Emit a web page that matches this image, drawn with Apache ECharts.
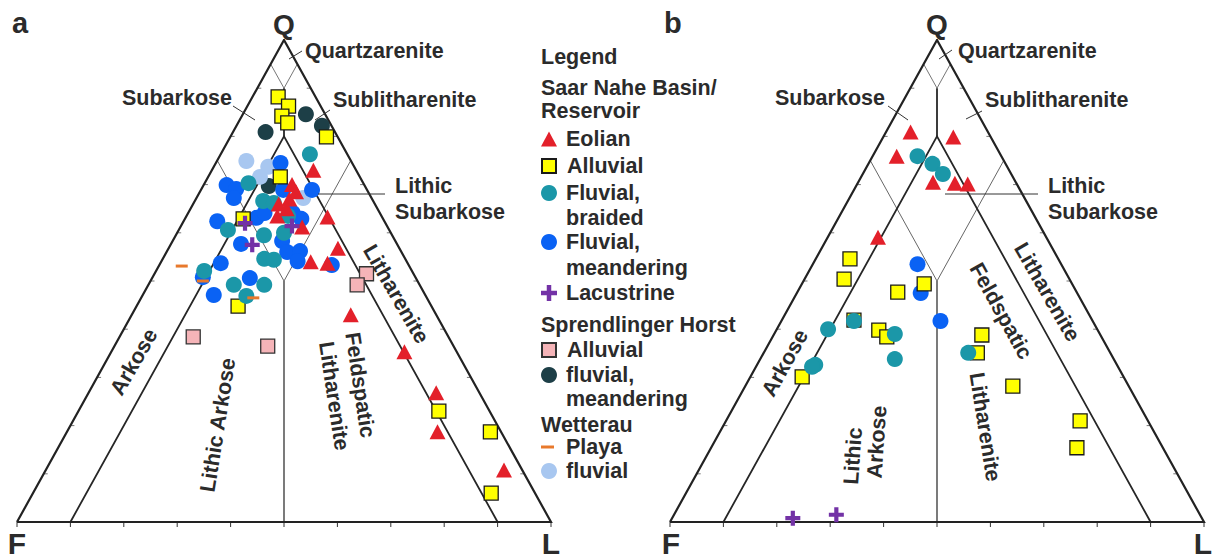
<!DOCTYPE html>
<html><head><meta charset="utf-8">
<script src="https://cdn.jsdelivr.net/npm/echarts/dist/echarts.min.js"></script>
<style>html,body{margin:0;padding:0;background:#fff}#c{width:1213px;height:558px}</style>
</head><body><div id="c"></div>
<script>
// Ternary compositions, [Q, F, L] in percent
// ---- Diagram a ----
const eolianA = [[73,8,19],[70,13.5,16.5],[67,15.5,17.5],[66,18,16],[63.5,19.5,17],[65,17,18],[68.5,13.5,18],[63.3,10.2,26.5],[61.2,16,22.8],[56.8,11.5,31.7],[54,18,28],[53.7,15,31.3],[43,16,41],[35.3,9.8,54.9],[26.8,8.1,65.1],[18.7,11.9,69.4],[10.8,3.4,85.8]];
const alluvialA = [[88.2,7,4.8],[86.3,6,7.7],[84.2,8.3,7.5],[82.8,7.9,9.3],[79.9,2.1,18],[71.6,14.9,13.5],[62.9,26.2,10.9],[44.8,36.2,19],[23,9.5,67.5],[18.7,2,79.3],[6,8.2,85.8]];
const braidedA = [[76.3,7,16.7],[70.3,21.5,8.2],[66.6,20.6,12.8],[66.2,18.8,15],[63.5,17.5,19],[60.6,30.2,9.2],[59.5,24,16.5],[60,20,20],[54.6,26.4,19],[54.4,24.7,20.9],[52.1,38.9,9],[49.2,34.8,16],[49.2,29.1,21.7],[46.9,33.6,19.5]];
const meanderingA = [[74.5,13.4,12.1],[69.9,25.8,4.3],[69.1,24.4,6.5],[67.2,25.8,7],[68.9,15.7,15.4],[68.9,10.3,20.8],[62.4,31.3,6.3],[63.1,23.6,13.3],[64.1,21.6,14.3],[64.1,16.3,19.6],[62.9,15.3,21.8],[57.7,29.2,13.1],[58.3,21.2,20.5],[56,21.4,22.6],[56.2,18.9,24.9],[54.1,20.4,25.5],[53.7,35,11.3],[50.6,31.1,18.3],[53.3,14.4,32.3],[50.8,39.8,9.4],[47.1,39.6,13.3]];
const lacustrineA = [[62,26.3,11.7],[61.4,17.8,20.8],[57.5,27.2,15.3]];
const sprAlluvialA = [[51.5,8.8,39.7],[49.2,11.7,39.1],[38.4,47.8,13.8],[36.5,34.8,28.7]];
const sprFluvialA = [[84.6,3.6,11.8],[82.2,1.8,16],[80.9,13,6.1],[69.7,18,12.3]];
const playaA = [[53.1,42.6,4.3],[50,40.2,9.8],[46.5,32.5,21]];
const wetFluvialA = [[74.9,19.6,5.5],[73.7,16.1,10.2],[71.6,18.7,9.7],[67.2,12.8,20]];
// ---- Diagram b ----
const eolianB = [[80.9,14.5,4.6],[79.9,7,13.1],[75.9,19.6,4.5],[70.5,15.5,14],[70.3,11.5,18.2],[70.1,9.2,20.7],[59.1,31.5,9.4]];
const alluvialB = [[54.6,39,6.4],[50.4,42.2,7.4],[47.7,33.5,18.8],[49.4,27.7,22.9],[41.9,44.6,13.5],[39.8,41,19.2],[38.4,40.2,21.4],[38.8,22.2,39],[35.1,24.9,40],[28.2,21.7,50.1],[21,12.7,66.3],[15.4,16.1,68.5],[30.1,60.2,9.7]];
const braidedB = [[75.9,15.7,8.4],[74.3,13.7,12],[72.2,12.8,15],[40,50.4,9.6],[41.7,44.7,13.6],[39,38.4,22.6],[33.8,41,25.2],[32.6,56.5,10.9],[32.2,57.3,10.5],[35.1,26.6,38.3]];
const meanderingB = [[53.5,26.9,19.6],[47.5,29.3,23.2],[41.7,28.5,29.8]];
const lacustrineB = [[0.8,76.6,22.6],[1.5,68.1,30.4]];

// Classification boundaries (Q, F, L)
const outerEdge = [[0,100,0],[0,0,100],[100,0,0],[0,100,0]];
const innerLines = [[0,90,10],[80,10,10],[0,10,90]];
const centerUpper = [[90,5,5],[80,10,10]];
const topV = [[95,5,0],[90,5,5],[95,0,5]];
const midV = [[75,25,0],[50,25,25],[75,0,25]];
const centerLower = [[50,25,25],[0,50,50]];
const tickSteps = [0,10,20,30,40,50,60,70,80,90,100];

const FONT = "'Liberation Sans', Arial, sans-serif";
const INK = '#2b2b2b';
const toXY = p => [(p[2] + p[0] / 2) / 100, p[0] / 100];
const PLUS = 'path://M3.6,0H6.4V3.6H10V6.4H6.4V10H3.6V6.4H0V3.6H3.6Z';

const defs = [
  {name:'fluvial, meandering (Sprendlinger Horst)', a:sprFluvialA, b:[], symbol:'circle', size:16, color:'#1d3f47'},
  {name:'fluvial (Wetterau)', a:wetFluvialA, b:[], symbol:'circle', size:16, color:'#a8c7f0'},
  {name:'Fluvial, meandering', a:meanderingA, b:meanderingB, symbol:'circle', size:16, color:'#0a62f4'},
  {name:'Alluvial', a:alluvialA, b:alluvialB, symbol:'rect', size:14, color:'#ffff00', border:'#1a1a1a'},
  {name:'Fluvial, braided', a:braidedA, b:braidedB, symbol:'circle', size:16, color:'#1b97a8'},
  {name:'Eolian', a:eolianA, b:eolianB, symbol:'triangle', size:[16,15], color:'#e3202a'},
  {name:'Alluvial (Sprendlinger Horst)', a:sprAlluvialA, b:[], symbol:'rect', size:14, color:'#f5b4b8', border:'#333'},
  {name:'Lacustrine', a:lacustrineA, b:lacustrineB, symbol:PLUS, size:15, color:'#7332a6'},
  {name:'Playa (Wetterau)', a:playaA, b:[], symbol:'rect', size:[12,3], color:'#e8792c'}
];

const series = [];
[0,1].forEach(g => {
  const lineSet = [
    [topV, 1, '#777'], [midV, 1, '#666'], [centerLower, 1.3, '#333'],
    [innerLines, 1.8, '#262626'], [centerUpper, 1.8, '#262626'], [outerEdge, 2.2, '#222']
  ];
  lineSet.forEach(([pts, w, c]) => series.push({
    type:'line', xAxisIndex:g, yAxisIndex:g, data: pts.map(toXY), symbol:'none', silent:true, z:1,
    lineStyle:{width:w, color:c, join:'miter'}, animation:false
  }));
  const ticks = [];
  tickSteps.forEach(t => ticks.push([...toXY([0,100-t,t]), 0]));
  tickSteps.slice(1,-1).forEach(t => { ticks.push([...toXY([t,100-t,0]), 1]); ticks.push([...toXY([t,0,100-t]), 2]); });
  series.push({
    type:'custom', xAxisIndex:g, yAxisIndex:g, data:ticks, silent:true, z:1, animation:false,
    renderItem:(params, api) => {
      const p = api.coord([api.value(0), api.value(1)]);
      const d = api.value(2);
      const off = d === 0 ? [0,5] : (d === 1 ? [4,0] : [-4,0]);
      return {type:'line', shape:{x1:p[0], y1:p[1], x2:p[0]+off[0], y2:p[1]+off[1]}, style:{stroke: d===0 ? '#333' : '#777', lineWidth:1}};
    }
  });
  defs.forEach(d => {
    const arr = g === 0 ? d.a : d.b;
    series.push({
      type:'scatter', name:d.name, xAxisIndex:g, yAxisIndex:g, data:arr.map(toXY), z:3,
      symbol:d.symbol, symbolSize:d.size, animation:false,
      itemStyle:{color:d.color, opacity:1, borderColor:d.border || d.color, borderWidth:d.border ? 1.3 : 0}
    });
  });
});

const legendRows = [
  {name:'Eolian', label:'Eolian', y:139, w:16, h:15},
  {name:'Alluvial', label:'Alluvial', y:166, w:14, h:14},
  {name:'Fluvial, braided', label:'Fluvial,', y:193, w:16, h:16},
  {name:'Fluvial, meandering', label:'Fluvial,', y:242, w:16, h:16},
  {name:'Lacustrine', label:'Lacustrine', y:293, w:16, h:16},
  {name:'Alluvial (Sprendlinger Horst)', label:'Alluvial', y:350, w:14, h:14},
  {name:'fluvial, meandering (Sprendlinger Horst)', label:'fluvial,', y:375, w:16, h:16},
  {name:'Playa (Wetterau)', label:'Playa', y:447, w:13, h:3},
  {name:'fluvial (Wetterau)', label:'fluvial', y:471, w:16, h:16}
];
const legends = legendRows.map(r => ({
  data:[r.name], left:541, top:r.y - 11, padding:0, itemWidth:r.w, itemHeight:r.h, selectedMode:false,
  formatter:() => r.label,
  textStyle:{fontSize:21.5, lineHeight:22, fontWeight:'bold', fontFamily:FONT, color:INK, padding:[0,0,0,566-(541+r.w+5)]}
}));

// Text annotations: [text, x, y, size, align, rotationDeg]
const texts = [
  ['Legend',541,57,21.5,'left',0], ['Saar Nahe Basin/',541,88,21.5,'left',0], ['Reservoir',541,111,21.5,'left',0],
  ['braided',566,218,21.5,'left',0], ['meandering',566,268,21.5,'left',0], ['Sprendlinger Horst',541,325,21.5,'left',0],
  ['meandering',566,399,21.5,'left',0], ['Wetterau',541,425,21.5,'left',0],
  ['a',12,23,29,'left',0], ['Q',284,24,28,'center',0], ['F',17,543,30,'center',0], ['L',551,543,30,'center',0],
  ['b',664,23,29,'left',0], ['Q',937,24,28,'center',0], ['F',671,543,30,'center',0], ['L',1203,543,30,'center',0],
  ['Quartzarenite',305,51,21.5,'left',0], ['Subarkose',122,98,21.5,'left',0], ['Sublitharenite',333,100,21.5,'left',0],
  ['Lithic',395,186,21.5,'left',0], ['Subarkose',395,212,21.5,'left',0],
  ['Quartzarenite',958,51,21.5,'left',0], ['Subarkose',775,98,21.5,'left',0], ['Sublitharenite',985,100,21.5,'left',0],
  ['Lithic',1048,186,21.5,'left',0], ['Subarkose',1048,212,21.5,'left',0],
  ['Arkose',134,362,21.5,'center',60], ['Lithic Arkose',218,425,21.5,'center',81],
  ['Feldspatic',360,385,21.5,'center',-81.5], ['Litharenite',334,396,21.5,'center',-81.5], ['Litharenite',396,294,21.5,'center',-60],
  ['Arkose',785,363,21.5,'center',61], ['Lithic',853,456,21.5,'center',86], ['Arkose',877,442,21.5,'center',86],
  ['Feldspatic',1001,311,21.5,'center',-61], ['Litharenite',985,427,21.5,'center',-81], ['Litharenite',1047,292,21.5,'center',-60]
];
const leaders = [
  [289,59,302,51],[233,106,255,120],[330,110,315,120],[318,194,385,194],
  [939,59,952,50],[888,106,908,120],[982,111,966,119],[945,194,1038,194]
];
const graphic = texts.map(t => ({
  type:'text', x:t[1], y:t[2], rotation:t[5]*Math.PI/180, silent:true, z:10,
  style:{text:t[0], fill:INK, font:`bold ${t[3]}px ${FONT}`, lineHeight:Math.min(22, t[3]), align:t[4], verticalAlign:'middle'}
})).concat(leaders.map(l => ({
  type:'line', shape:{x1:l[0], y1:l[1], x2:l[2], y2:l[3]}, silent:true, z:10, style:{stroke:'#333', lineWidth:1}
})));

const axis = (g) => ({type:'value', gridIndex:g, min:0, max:1, show:false});
const chart = echarts.init(document.getElementById('c'), null, {renderer:'svg'});
chart.setOption({
  animation:false,
  backgroundColor:'#fff',
  grid:[{left:17, top:40, width:534, height:482}, {left:670, top:40, width:534, height:482}],
  xAxis:[axis(0), axis(1)],
  yAxis:[axis(0), axis(1)],
  legend:legends,
  graphic:graphic,
  series:series
});
</script></body></html>
